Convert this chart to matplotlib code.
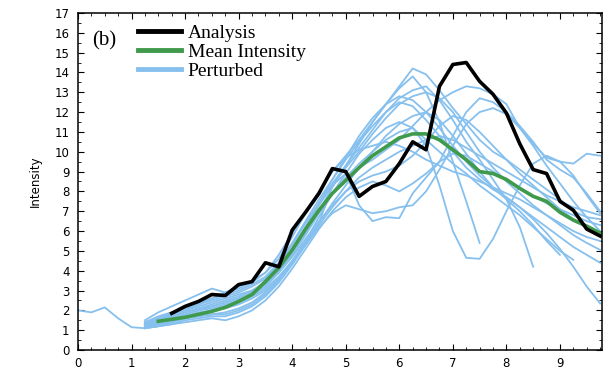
import numpy as np
import matplotlib
matplotlib.use('Agg')
import matplotlib.pyplot as plt
from matplotlib.ticker import MultipleLocator

STEP = 0.25

# analysis track (black)
analysis_start = 1.75
analysis = [1.85, 2.2, 2.45, 2.8, 2.75, 3.3, 3.45, 4.4, 4.2, 6.05, 6.95, 7.9, 9.15,
            9.0, 7.75, 8.25, 8.5, 9.4, 10.5, 10.1, 13.3, 14.4, 14.5, 13.55, 12.9,
            11.95, 10.4, 9.1, 8.9, 7.5, 7.05, 6.1, 5.75]

# ensemble mean (green)
mean_start = 1.5
mean_intensity = [1.45, 1.55, 1.65, 1.8, 1.95, 2.15, 2.45, 2.8, 3.45, 4.15, 5.05, 6.1,
                  7.05, 7.9, 8.55, 9.2, 9.8, 10.25, 10.7, 10.9, 10.9, 10.6, 10.1, 9.6,
                  9.0, 8.9, 8.6, 8.15, 7.75, 7.5, 6.95, 6.55, 6.25, 5.9]

# perturbed members (light blue), start time + values every 0.25
p00 = [2.0, 1.9, 2.15, 1.6, 1.15, 1.1, 1.2, 1.4, 1.6, 1.8, 2.0, 2.2, 2.5, 2.9, 3.5, 4.2,
       5.1, 6.0, 7.0, 7.9, 8.6, 9.2, 9.6, 10.1, 10.6, 11.3, 12.0, 12.6, 13.0, 13.3, 13.2,
       12.9, 12.4, 11.2, 10.4, 9.7, 9.5, 9.4, 9.9, 9.8]
p01 = [1.3, 1.6, 1.9, 2.2, 2.4, 2.6, 2.9, 3.2, 3.5, 3.9, 4.6, 5.7, 6.9, 8.0, 9.0, 9.8,
       10.6, 11.5, 12.4, 13.3, 14.2, 13.9, 13.1, 12.2, 11.4, 10.6, 10.0, 9.6, 9.1, 8.6,
       8.1, 7.6, 7.0, 6.7, 6.6]
p02 = [1.2, 1.4, 1.6, 1.8, 2.0, 2.2, 2.4, 2.6, 2.9, 3.4, 4.0, 4.9, 5.9, 7.0, 8.2, 9.3,
       10.4, 11.5, 12.4, 13.2, 13.8, 13.0, 11.5, 9.5, 7.5, 5.4]
p03 = [1.4, 1.7, 1.9, 2.1, 2.3, 2.5, 2.7, 2.9, 3.2, 3.6, 4.3, 5.3, 6.4, 7.4, 8.4, 9.3,
       10.2, 11.1, 12.0, 12.7, 13.1, 13.3, 12.6, 11.6, 10.5, 9.6, 8.6, 7.6, 6.2, 4.2]
p04 = [1.1, 1.3, 1.4, 1.6, 1.7, 1.8, 1.9, 2.1, 2.4, 2.9, 3.6, 4.5, 5.5, 6.4, 8.3, 8.9,
       7.3, 6.5, 6.7, 6.65, 7.9, 8.7, 9.5, 10.8, 12.0, 12.7, 12.5, 12.0, 11.3, 10.5,
       9.6, 9.1, 8.7, 7.9, 7.0]
p05 = [1.3, 1.5, 1.6, 1.8, 2.0, 2.1, 2.3, 2.5, 2.8, 3.2, 3.9, 4.8, 5.8, 6.9, 7.9, 8.7,
       9.4, 10.0, 10.6, 11.0, 11.2, 10.3, 8.3, 6.0, 4.65, 4.6, 5.6, 7.0, 8.3, 9.4, 9.8,
       9.5, 8.8, 7.8, 6.9]
p06 = [1.2, 1.5, 1.8, 2.0, 2.3, 2.6, 2.8, 3.0, 3.3, 3.7, 4.4, 5.4, 6.5, 7.6, 8.6, 9.6,
       10.5, 11.3, 12.0, 12.5, 12.3, 11.6, 10.8, 10.0, 9.2, 8.6, 8.1, 7.7, 7.2, 6.6,
       5.9, 5.1, 4.2, 3.2, 2.35]
p07 = [1.3, 1.4, 1.6, 1.7, 1.9, 2.0, 2.2, 2.4, 2.7, 3.1, 3.7, 4.5, 5.4, 6.4, 7.4, 8.3,
       9.2, 10.0, 10.8, 11.4, 11.8, 12.0, 11.6, 10.8, 9.9, 9.0, 8.2, 7.6, 7.0, 6.3,
       5.5, 4.8]
p08 = [1.2, 1.3, 1.5, 1.6, 1.7, 1.8, 1.8, 2.0, 2.3, 2.8, 3.5, 4.4, 5.5, 6.7, 7.9, 8.9,
       9.9, 10.6, 11.2, 11.5, 11.2, 10.6, 10.0, 9.4, 8.9, 8.3, 7.8, 7.3, 6.8, 6.2, 5.6,
       5.0, 4.55]
p09 = [1.5, 1.9, 2.2, 2.5, 2.8, 3.1, 2.9, 3.1, 3.4, 3.9, 4.8, 5.9, 7.0, 8.0, 9.0, 9.7,
       10.1, 10.3, 10.5, 10.3, 10.0, 9.6, 9.3, 9.0, 8.8, 8.5, 8.2, 7.9, 7.6, 7.2, 6.8,
       6.3, 5.8, 5.4, 5.05]
p10 = [1.1, 1.2, 1.3, 1.4, 1.5, 1.6, 1.5, 1.7, 2.0, 2.5, 3.2, 4.1, 5.1, 6.1, 7.0, 7.7,
       8.2, 8.5, 8.3, 8.0, 8.4, 8.9, 9.5, 9.9, 9.8, 9.4, 9.0, 8.6, 8.2, 7.8, 7.4, 7.1,
       6.8, 6.5, 6.3]
p11 = [1.3, 1.6, 1.8, 2.0, 2.2, 2.4, 2.6, 2.8, 3.0, 3.4, 4.0, 5.0, 6.2, 7.4, 8.6, 9.7,
       10.8, 11.7, 12.4, 12.8, 12.6, 12.0, 11.2, 10.3, 9.5, 8.8, 8.2, 7.7, 7.2, 6.7,
       6.2, 5.7, 5.2, 4.8, 4.4]
p12 = [1.2, 1.4, 1.5, 1.7, 1.8, 2.0, 2.1, 2.3, 2.6, 3.0, 3.6, 4.4, 5.3, 6.3, 7.2, 8.0,
       8.7, 9.2, 9.6, 10.0, 10.3, 10.6, 10.8, 10.6, 10.2, 9.8, 9.4, 9.0, 8.6, 8.2, 7.8,
       7.5, 7.2, 7.0, 6.8]
p13 = [1.4, 1.6, 1.7, 1.9, 2.1, 2.2, 2.4, 2.6, 2.9, 3.3, 3.9, 4.7, 5.6, 6.5, 7.3, 8.0,
       8.5, 8.8, 9.0, 9.3, 9.8, 10.5, 11.3, 11.8, 11.6, 11.0, 10.3, 9.6, 8.9, 8.3, 7.7,
       7.1, 6.6, 6.2, 5.8]
p14 = [1.1, 1.2, 1.3, 1.5, 1.6, 1.7, 1.7, 1.9, 2.2, 2.7, 3.4, 4.3, 5.3, 6.2, 6.9, 7.3,
       7.1, 6.9, 7.0, 7.2, 7.3, 8.0, 9.1, 10.3, 11.4, 12.0, 12.2, 11.9, 11.2, 10.3, 9.3,
       8.4, 7.5, 6.7, 6.0]
p15 = [1.2, 1.5, 1.7, 1.9, 2.1, 2.3, 2.5, 2.7, 3.0, 3.4, 4.1, 5.1, 6.2, 7.3, 8.3, 9.2,
       10.0, 10.9, 11.7, 12.4, 12.8, 13.0, 12.7, 12.0, 11.0, 10.0, 9.2, 8.5, 7.9, 7.3,
       6.8, 6.4, 6.0, 5.7, 5.5]

members = [(0.0, p00)] + [(1.25, p) for p in
                          [p01, p02, p03, p04, p05, p06, p07, p08, p09, p10,
                           p11, p12, p13, p14, p15]]


def times(start, vals):
    return start + STEP * np.arange(len(vals))


fig = plt.figure(figsize=(6.14, 3.70), dpi=100)
ax = fig.add_axes([0.127, 0.054, 0.853, 0.911])

blue = '#86c0ee'
for start, vals in members:
    ax.plot(times(start, vals), vals, color=blue, lw=1.3)
ax.plot(times(mean_start, mean_intensity), mean_intensity, color='#3f9a4b', lw=2.6)
ax.plot(times(analysis_start, analysis), analysis, color='black', lw=2.6)

ax.set_xlim(0, 9.78)
ax.set_ylim(0, 17)
ax.set_xticks(range(10))
ax.set_yticks(range(18))
ax.xaxis.set_minor_locator(MultipleLocator(0.25))
ax.yaxis.set_minor_locator(MultipleLocator(0.5))
ax.tick_params(which='both', direction='in', top=True, right=True, labelsize=8.5)
ax.tick_params(which='major', length=4, width=0.8)
ax.tick_params(which='minor', length=2, width=0.6)
ax.tick_params(axis='x', pad=5)
ax.tick_params(axis='y', pad=6)
for s in ax.spines.values():
    s.set_linewidth(1.1)
ax.set_ylabel('Intensity', fontsize=8.5, labelpad=9)

ax.text(0.26, 15.6, '(b)', fontsize=15, family='Liberation Serif', va='center')
h1, = ax.plot([], [], color='black', lw=3.5)
h2, = ax.plot([], [], color='#3f9a4b', lw=3.5)
h3, = ax.plot([], [], color=blue, lw=3.5)
ax.legend([h1, h2, h3], ['Analysis', 'Mean Intensity', 'Perturbed'],
          loc='upper left', bbox_to_anchor=(0.1, 0.99), frameon=False,
          prop={'family': 'Liberation Serif', 'size': 14},
          handlelength=2.2, handletextpad=0.35, labelspacing=0.08, borderaxespad=0)

fig.savefig('out.png', dpi=100)
